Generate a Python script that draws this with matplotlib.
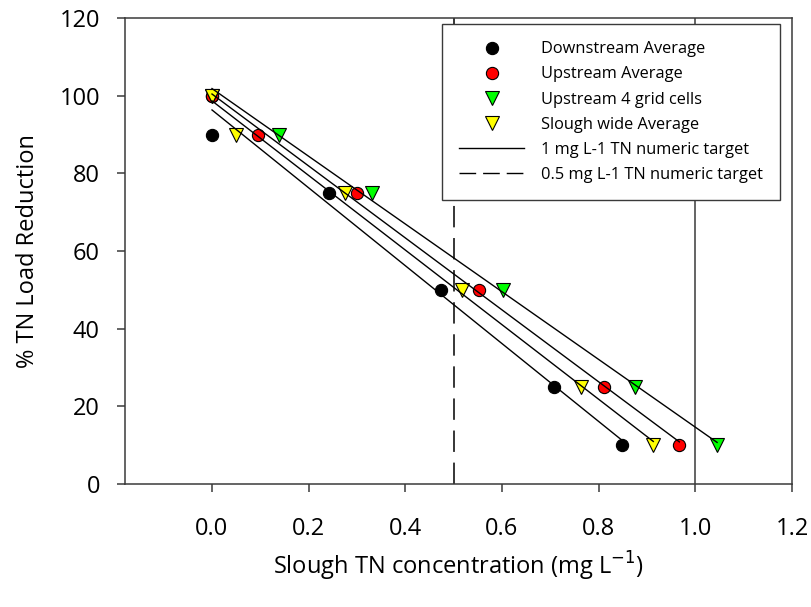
import numpy as np
import matplotlib
matplotlib.use("Agg")
import matplotlib.pyplot as plt
from matplotlib.lines import Line2D

plt.rcParams["font.family"] = ["Open Sans", "DejaVu Sans"]

# TN load reduction (%) for each series
reduction = [100, 90, 75, 50, 25, 10]

# slough TN concentration (mg/L)
downstream_avg = [0.0, 0.0, 0.243, 0.474, 0.707, 0.849]
upstream_avg = [0.0, 0.095, 0.299, 0.553, 0.812, 0.967]
upstream_4grid = [0.0, 0.138, 0.332, 0.602, 0.876, 1.045]
slough_wide_avg = [0.0, 0.049, 0.276, 0.518, 0.763, 0.913]

series_names = ["Downstream Average", "Upstream Average",
                "Upstream 4 grid cells", "Slough wide Average"]
series_x = [downstream_avg, upstream_avg, upstream_4grid, slough_wide_avg]
series_marker = ["o", "o", "v", "v"]
series_color = ["#000000", "#ff0000", "#00ff00", "#ffff00"]

targets = [1.0, 0.5]
target_names = ["1 mg L-1 TN numeric target", "0.5 mg L-1 TN numeric target"]

x_ticks = [0.0, 0.2, 0.4, 0.6, 0.8, 1.0, 1.2]
y_ticks = [0, 20, 40, 60, 80, 100, 120]

frame = "#3a3a3a"

fig = plt.figure(figsize=(8.12, 6.07), dpi=100)
ax = fig.add_axes([125 / 812, 1 - 484 / 607, (792 - 125) / 812, (484 - 18) / 607])

# markers first, regression lines on top
handles = []
for xs, name, mk, col in zip(series_x, series_names, series_marker, series_color):
    ms = 8.8 if mk == "o" else 9.8
    ax.plot(xs, reduction, linestyle="none", marker=mk, ms=ms, mfc=col,
            mec="black", mew=0.8, zorder=3)
    handles.append(Line2D([], [], linestyle="none", marker=mk, ms=ms, mfc=col,
                          mec="black", mew=0.8, label=name))

for xs in series_x:
    xs = np.array(xs)
    slope, icpt = np.polyfit(xs, reduction, 1)   # linear regression per series
    xx = np.array([xs.min(), xs.max()])
    ax.plot(xx, icpt + slope * xx, color="black", lw=1.0, zorder=4)

# numeric target lines
ax.axvline(targets[0], color=frame, lw=1.1, zorder=2)
ax.axvline(targets[1], color="black", lw=1.1, linestyle=(0, (14, 7)), zorder=2)
handles.append(Line2D([], [], color="black", lw=1.0, label=target_names[0]))
handles.append(Line2D([], [], color="black", lw=1.0, linestyle=(0, (12, 5)),
                      label=target_names[1]))

ax.set_xlim(-0.18, 1.2)
ax.set_ylim(0, 120)
ax.set_xticks(x_ticks)
ax.set_xticklabels([f"{v:.1f}" for v in x_ticks])
ax.set_yticks(y_ticks)

for s in ax.spines.values():
    s.set_color(frame)
    s.set_linewidth(1.1)

ax.tick_params(axis="x", direction="out", length=6, width=1.1, color=frame,
               labelsize=17, pad=18)
ax.tick_params(axis="y", direction="out", length=6, width=1.1, color=frame,
               labelsize=17, pad=12)

ax.set_xlabel("Slough TN concentration (mg L$^{-1}$)", fontsize=17, labelpad=6)
ax.set_ylabel("% TN Load Reduction", fontsize=17, labelpad=14)

leg = ax.legend(handles=handles, loc="upper right", bbox_to_anchor=(0.982, 0.987),
                fontsize=11.8, frameon=True, fancybox=False, framealpha=1,
                edgecolor=frame, handlelength=4.0, handletextpad=1.0,
                labelspacing=0.56, borderpad=1.05, borderaxespad=0)
leg.get_frame().set_linewidth(1.0)
leg.set_zorder(10)

fig.savefig("out.png", dpi=100)
